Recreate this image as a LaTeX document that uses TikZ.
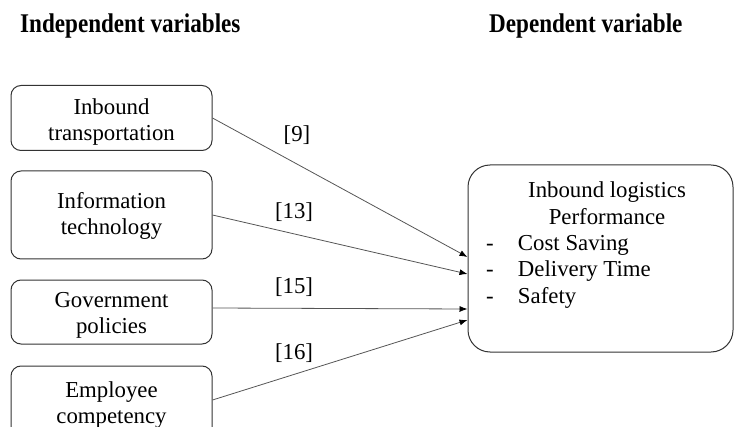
\documentclass[tikz,border=0pt]{standalone}
\usepackage{fontspec}
\usepackage{graphicx}
\setmainfont{Liberation Serif}
\usetikzlibrary{arrows.meta}
\definecolor{boxline}{HTML}{333333}
\definecolor{arrline}{HTML}{555555}
\newcommand{\bodyfont}{\fontsize{22.8}{26}\selectfont}
\newcommand{\dvfont}{\fontsize{22.8}{26.3}\selectfont}
\newcommand{\twolines}[3]{\raisebox{#1}[0pt][0pt]{\begin{tabular}[b]{@{}c@{}}#2\\#3\end{tabular}}}
\begin{document}
\begin{tikzpicture}[x=1pt,y=-1pt,
  ivbox/.style={draw=boxline,line width=1pt,rounded corners=10pt,minimum width=201pt,inner sep=0pt,font=\bodyfont},
  dvbox/.style={draw=boxline,line width=1pt,rounded corners=22pt,minimum width=265pt,minimum height=187pt,inner sep=0pt,font=\dvfont},
  head/.style={inner sep=0pt,anchor=base west},
  reflabel/.style={inner sep=0pt,font=\bodyfont},
  link/.style={draw=arrline,line width=0.8pt,-{Latex[length=8pt,width=6pt,color=black]}}]
\useasboundingbox (0,0) rectangle (735,427);
\node[head] (hin) at (20,33) {\scalebox{0.856}[1]{\bfseries\fontsize{27}{30}\selectfont Independent variables}};
\node[head] (hdep) at (489,33) {\scalebox{0.856}[1]{\bfseries\fontsize{27}{30}\selectfont Dependent variable}};
\node[ivbox,minimum height=65pt] (b1) at (111.5,118) {\twolines{-23pt}{Inbound}{transportation}};
\node[ivbox,minimum height=88pt] (b2) at (111.5,215) {\twolines{-20pt}{Information}{technology}};
\node[ivbox,minimum height=64pt] (b3) at (111.5,312) {\twolines{-21pt}{Government}{policies}};
\node[ivbox,minimum height=78pt] (b4) at (111.5,405) {\twolines{-18pt}{Employee}{competency}};
\node[dvbox] (dv) at (600.5,258.5) {\raisebox{-44.5pt}[0pt][0pt]{\begin{tabular}[b]{@{}l@{}}
\makebox[229pt][c]{\hspace{13pt}Inbound logistics}\\
\makebox[229pt][c]{\hspace{13pt}Performance}\\
\makebox[32pt][l]{-}Cost Saving\\
\makebox[32pt][l]{-}Delivery Time\\
\makebox[32pt][l]{-}Safety
\end{tabular}}};
\draw[link] (b1.east) -- (dv.west |- 0,257);
\draw[link] (b2.east) -- (dv.west |- 0,274);
\draw[link] ([yshift=4pt]b3.east) -- (dv.west |- 0,309);
\draw[link] ([yshift=5pt]b4.east) -- (dv.west |- 0,320);
\node[reflabel] (l9) at (297,135) {[9]};
\node[reflabel] (l13) at (294,212) {[13]};
\node[reflabel] (l15) at (294,287) {[15]};
\node[reflabel] (l16) at (294,353) {[16]};
\end{tikzpicture}
\end{document}
